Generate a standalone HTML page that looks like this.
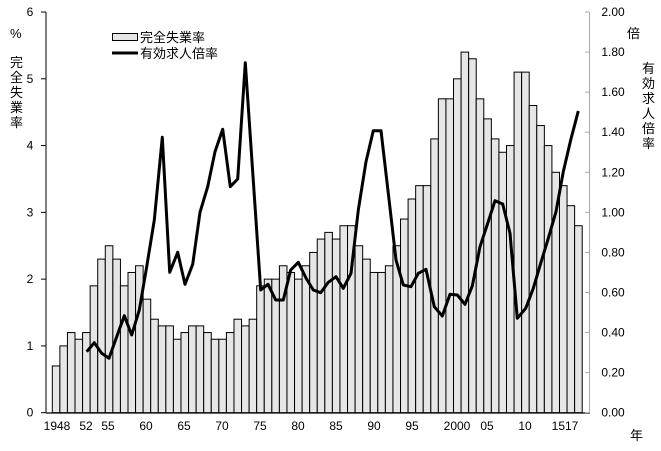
<!DOCTYPE html>
<html><head><meta charset="utf-8"><style>
html,body{margin:0;padding:0;background:#fff;}
svg{display:block;}
text{font-family:"Liberation Sans","Noto Sans CJK JP",sans-serif;fill:#000;}
</style></head><body>
<svg id="s" width="661" height="451" viewBox="0 0 661 451" xmlns="http://www.w3.org/2000/svg">
<g id="bars"></g>
<polyline id="ln" fill="none" stroke="#000" stroke-width="3" stroke-linejoin="round" points=""/>
<line x1="46" y1="12" x2="46" y2="413" stroke="#000" stroke-width="1"/>
<line x1="46" y1="413" x2="590" y2="413" stroke="#000" stroke-width="1.2"/>
<line x1="589.5" y1="12" x2="589.5" y2="413" stroke="#aaa" stroke-width="1"/>
<g id="ticks"></g>
<g font-size="12" id="labels"></g>
<text x="10" y="38" font-size="13">%</text>
<g font-size="13">
<text x="10" y="67">完</text><text x="10" y="82">全</text><text x="10" y="97">失</text><text x="10" y="112">業</text><text x="10" y="127">率</text>
<text x="642" y="73">有</text><text x="642" y="88">効</text><text x="642" y="103">求</text><text x="642" y="118">人</text><text x="642" y="133">倍</text><text x="642" y="148">率</text>
<text x="627" y="38">倍</text>
<text x="630" y="440">年</text>
</g>
<rect x="112.5" y="33.5" width="25" height="7" fill="#e6e6e6" stroke="#000" stroke-width="1"/>
<text x="140" y="42" font-size="13">完全失業率</text>
<line x1="112" y1="53" x2="138" y2="53" stroke="#000" stroke-width="3"/>
<text x="140" y="58" font-size="13">有効求人倍率</text>
</svg>
<script>
var u=[0.7,1.0,1.2,1.1,1.2,1.9,2.3,2.5,2.3,1.9,2.1,2.2,1.7,1.4,1.3,1.3,1.1,1.2,1.3,1.3,1.2,1.1,1.1,1.2,1.4,1.3,1.4,1.9,2.0,2.0,2.2,2.1,2.0,2.2,2.4,2.6,2.7,2.6,2.8,2.8,2.5,2.3,2.1,2.1,2.2,2.5,2.9,3.2,3.4,3.4,4.1,4.7,4.7,5.0,5.4,5.3,4.7,4.4,4.1,3.9,4.0,5.1,5.1,4.6,4.3,4.0,3.6,3.4,3.1,2.8];
var ns="http://www.w3.org/2000/svg",b=document.getElementById('bars'),h='';
var x0=52.3,w=7.57,base=412.7,k=66.78;
for(var i=0;i<u.length;i++){var x=x0+i*w,y=base-u[i]*k;h+='<rect x="'+x.toFixed(2)+'" y="'+y.toFixed(2)+'" width="'+w+'" height="'+(base-y).toFixed(2)+'" fill="#e6e6e6" stroke="#000" stroke-width="1"/>';}
b.innerHTML=h;
var p=[[86.7,351.7],[94.3,342.7],[101.7,353.3],[109,358.3],[116.7,336.7],[124.3,315.7],[131.7,335],[139.3,310],[146.7,266.7],[154.3,220],[162.3,137.3],[169.7,272.3],[177.7,252.3],[185,284.3],[192.7,264.3],[200,212.3],[207.7,186.7],[215,151.7],[222.7,129.3],[230.3,186.7],[237.7,179],[245.3,62.7],[260.7,290],[268,284.3],[275.7,300],[283.3,300],[290.7,270],[298.3,262.3],[306,278],[313.3,290],[320.7,292.7],[328.3,282.3],[336,276.7],[343.3,288.3],[351,273.3],[358.3,210],[366,161.7],[373.3,130.7],[381,130.7],[388.3,193.3],[396,260],[403.3,285],[411,286.7],[418.3,273.3],[426,269.3],[434.3,306.7],[442.3,316],[450,294.3],[457.3,295],[465,304.3],[472.3,286],[480,246.7],[487.7,223.3],[495,200.7],[502.7,204],[510,233.3],[517.3,318.3],[525.7,308.3],[533.3,288.3],[540.7,263.3],[548.3,238.3],[556,211.7],[563.3,171.7],[570.7,140],[578.3,111]];
document.getElementById('ln').setAttribute('points',p.map(function(a){return a.join(',')}).join(' '));
var t='',l='';
for(var j=0;j<=6;j++){var y=base-j*k;t+='<line x1="41" y1="'+y+'" x2="46" y2="'+y+'" stroke="#000"/>';l+='<text x="30" y="'+(y+4)+'" text-anchor="middle">'+j+'</text>';}
for(var j=0;j<=10;j++){var y=base-j*40.07;t+='<line x1="585" y1="'+y+'" x2="589" y2="'+y+'" stroke="#aaa"/>';l+='<text x="613" y="'+(y+4)+'" text-anchor="middle">'+(j*0.2).toFixed(2)+'</text>';}
var xl=[["1948",57],["52",86],["55",108],["60",146],["65",184],["70",222],["75",260],["80",298],["85",336],["90",374],["95",412],["2000",457],["05",487],["10",525],["1517",565]];
xl.forEach(function(a){l+='<text x="'+a[1]+'" y="430" text-anchor="middle">'+a[0]+'</text>';});
document.getElementById('ticks').innerHTML=t;
document.getElementById('labels').innerHTML=l;
</script>
</body></html>
